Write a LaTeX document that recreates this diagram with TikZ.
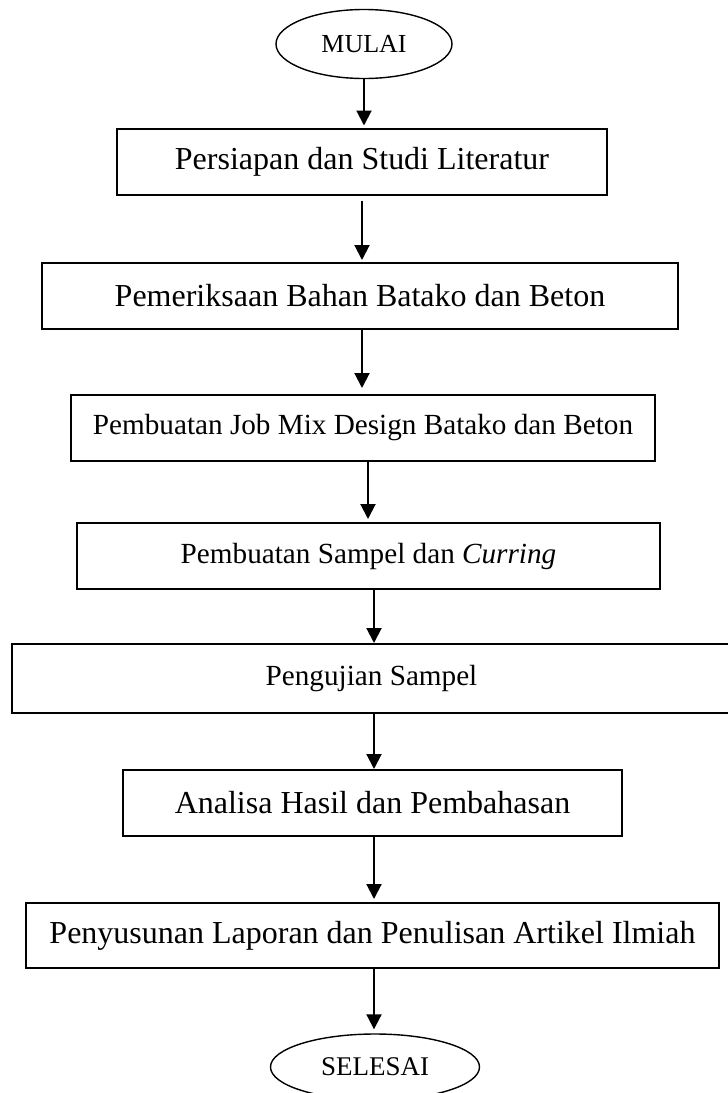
\documentclass[tikz,border=0pt]{standalone}
\usepackage{fontspec}
\setmainfont{Liberation Serif}
\usetikzlibrary{shapes.geometric,arrows.meta}
\begin{document}
\begin{tikzpicture}[x=1pt,y=-1pt,
  stepbox/.style={draw, line width=2pt, inner sep=0pt, minimum height=66pt, font=\fontsize{32}{38}\selectfont},
  smallbox/.style={stepbox, font=\fontsize{29.2}{35}\selectfont},
  term/.style={draw, ellipse, line width=1.4pt, inner sep=0pt, minimum width=176pt, minimum height=69pt, font=\fontsize{26}{31}\selectfont},
  arr/.style={line width=2pt, -{Triangle[width=15pt,length=15pt]}}
]
\useasboundingbox (0,0) rectangle (728,1093);
\node[term] (start) at (364,44) {MULAI};
\node[stepbox, minimum width=490pt] (b1) at (362,161.5) {Persiapan dan Studi Literatur};
\node[stepbox, minimum width=636pt] (b2) at (360,296) {Pemeriksaan Bahan Batako dan Beton};
\node[smallbox, minimum width=584pt] (b3) at (363,428) {Pembuatan Job Mix Design Batako dan Beton};
\node[smallbox, minimum width=583pt] (b4) at (368.5,556) {Pembuatan Sampel dan \textit{Curring}};
\node[smallbox, minimum width=733pt, minimum height=69pt] (b5) at (378.5,678.5) {\hspace*{-14pt}Pengujian Sampel};
\node[stepbox, minimum width=499pt] (b6) at (372.5,803) {Analisa Hasil dan Pembahasan};
\node[stepbox, minimum width=693pt, minimum height=65pt] (b7) at (372.5,935.5) {Penyusunan Laporan dan Penulisan Artikel Ilmiah};
\node[term, minimum width=209pt, minimum height=66pt, font=\fontsize{27}{32}\selectfont] (end) at (375,1067) {SELESAI};
\coordinate (x1) at (364,0);
\coordinate (x2) at (362,0);
\coordinate (x4) at (368,0);
\coordinate (x5) at (374,0);
\draw[arr, shorten >=2pt] (start.south -| x1) -- (b1.north -| x1);
\draw[arr, shorten <=5pt, shorten >=2pt] (b1.south -| x2) -- (b2.north -| x2);
\draw[arr, shorten >=6pt] (b2.south -| x2) -- (b3.north -| x2);
\draw[arr, shorten >=3pt] (b3.south -| x4) -- (b4.north -| x4);
\draw[arr] (b4.south -| x5) -- (b5.north -| x5);
\draw[arr] (b5.south -| x5) -- (b6.north -| x5);
\draw[arr, shorten >=3pt] (b6.south -| x5) -- (b7.north -| x5);
\draw[arr, shorten >=4pt] (b7.south -| x5) -- (end.north -| x5);
\end{tikzpicture}
\end{document}
